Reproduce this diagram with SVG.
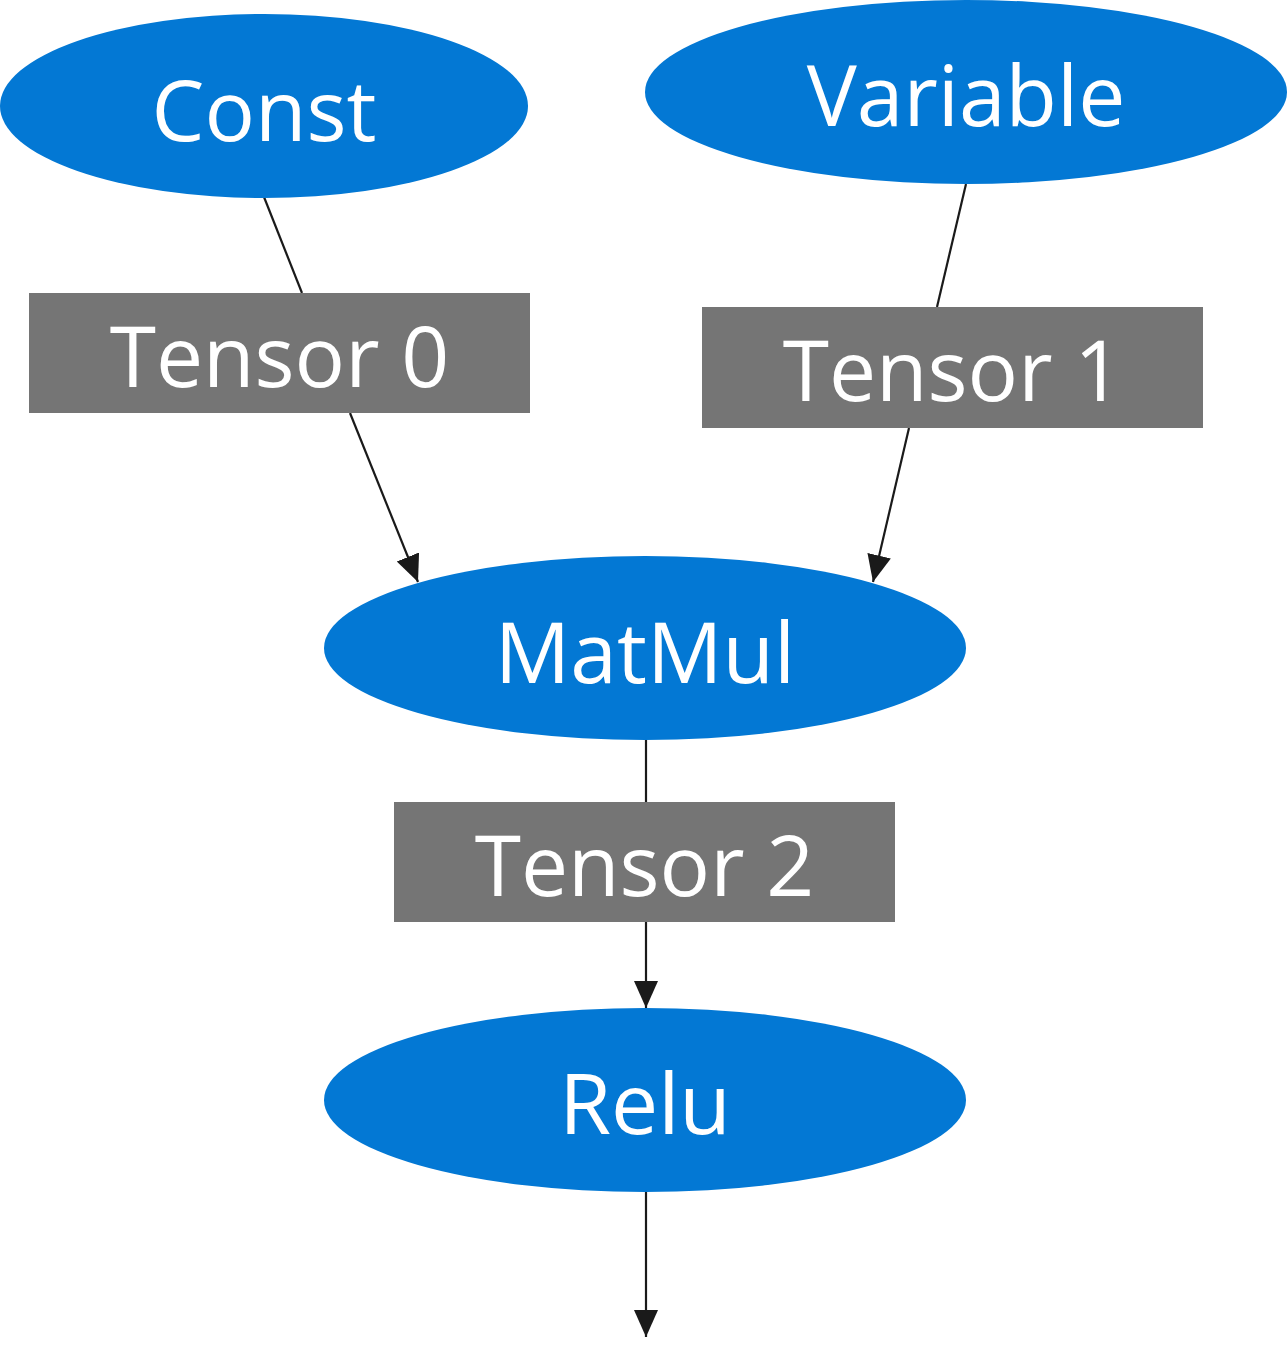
<svg xmlns="http://www.w3.org/2000/svg" width="1287" height="1366" viewBox="0 0 1287 1366">
<style>
.op{fill:#0378d4}
.t{fill:#757575}
.lbl{font-family:"Open Sans","Noto Sans",sans-serif;font-size:84px;fill:#ffffff;text-anchor:middle}
.e{stroke:#1a1a1a;stroke-width:2.2;fill:none}
</style>
<defs>
<marker id="arr" markerUnits="userSpaceOnUse" markerWidth="30" markerHeight="26" refX="27" refY="12" orient="auto">
<path d="M0,0 L27,12 L0,24 z" fill="#1a1a1a"/>
</marker>
</defs>
<rect width="1287" height="1366" fill="#ffffff"/>
<g id="connectors">
<line class="e" x1="264" y1="197" x2="302" y2="293"/>
<line class="e" x1="350" y1="413" x2="418" y2="582" marker-end="url(#arr)"/>
<line class="e" x1="966" y1="184" x2="937" y2="307"/>
<line class="e" x1="909" y1="428" x2="873" y2="582" marker-end="url(#arr)"/>
<line class="e" x1="646" y1="740" x2="646" y2="802"/>
<line class="e" x1="646" y1="922" x2="646" y2="1008" marker-end="url(#arr)"/>
<line class="e" x1="646" y1="1192" x2="646" y2="1337" marker-end="url(#arr)"/>
</g>
<g id="const">
<ellipse class="op" cx="264" cy="106" rx="264" ry="92"/>
<text class="lbl" x="264" y="141">Const</text>
</g>
<g id="variable">
<ellipse class="op" cx="966" cy="92" rx="321" ry="92"/>
<text class="lbl" x="966" y="126">Variable</text>
</g>
<g id="tensor0">
<rect class="t" x="29" y="293" width="501" height="120"/>
<text class="lbl" x="279.5" y="387">Tensor 0</text>
</g>
<g id="tensor1">
<rect class="t" x="702" y="307" width="501" height="121"/>
<text class="lbl" x="952.5" y="401">Tensor 1</text>
</g>
<g id="matmul">
<ellipse class="op" cx="645" cy="648" rx="321" ry="92"/>
<text class="lbl" x="645" y="683">MatMul</text>
</g>
<g id="tensor2">
<rect class="t" x="394" y="802" width="501" height="120"/>
<text class="lbl" x="644.5" y="896">Tensor 2</text>
</g>
<g id="relu">
<ellipse class="op" cx="645" cy="1100" rx="321" ry="92"/>
<text class="lbl" x="645" y="1134">Relu</text>
</g>
</svg>
